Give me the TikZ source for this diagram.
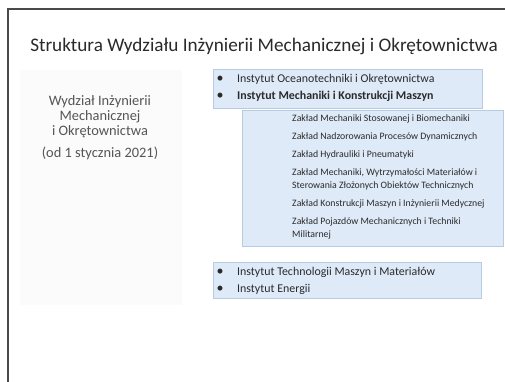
\documentclass[tikz,border=0pt]{standalone}
\usepackage{fontspec}
\setmainfont{Carlito}
\definecolor{framec}{HTML}{4A4A4A}
\definecolor{boxblue}{HTML}{DFEAF8}
\definecolor{boxedge}{HTML}{B7CBE3}
\definecolor{leftgrey}{HTML}{FBFBFB}
\definecolor{textgrey}{HTML}{555555}
\definecolor{textdark}{HTML}{2A2A2A}
\begin{document}
\begin{tikzpicture}[x=1pt,y=-1pt,
  bluebox/.style={rectangle, fill=boxblue, draw=boxedge, line width=0.7pt, inner sep=0pt},
  greybox/.style={rectangle, fill=leftgrey, draw=none, inner sep=0pt},
  inst/.style={anchor=west, inner sep=0pt, text=textdark, font=\fontsize{11.9}{14}\selectfont},
  bul/.style={anchor=center, inner sep=0pt, text=textdark, font=\fontsize{14}{14}\selectfont},
  zak/.style={anchor=west, inner sep=0pt, text=textdark, font=\fontsize{9.8}{11}\selectfont},
  lefttxt/.style={anchor=center, inner sep=0pt, text=textgrey, font=\fontsize{14.4}{16}\selectfont}]
\useasboundingbox (0,0) rectangle (505,382);
\fill[white] (0,0) rectangle (505,382);
% slide frame
\coordinate (fbl) at (8,382);
\coordinate (ftl) at (8,9);
\coordinate (ftr) at (505,9);
\draw[framec, line width=1.4pt] (fbl) -- (ftl) -- (ftr);
% title
\node[anchor=center, inner sep=0pt, text=textdark, font=\fontsize{19.2}{22}\selectfont] (title) at (264,46) {Struktura Wydziału Inżynierii Mechanicznej i Okrętownictwa};
% left box
\node[greybox, minimum width=162, minimum height=235] (leftbox) at (101,187.5) {};
\node[lefttxt] (l1) at (100,102) {Wydział Inżynierii};
\node[lefttxt] (l2) at (100,117) {Mechanicznej};
\node[lefttxt] (l3) at (100,132) {i Okrętownictwa};
\node[lefttxt] (l4) at (100,153) {(od 1 stycznia 2021)};
% top box
\node[bluebox, minimum width=269, minimum height=39] (topbox) at (347.5,88.5) {};
\node[bul] (b1) at (220,79) {•};
\node[inst] (i1) at (237,79) {Instytut Oceanotechniki i Okrętownictwa};
\node[bul] (b2) at (220,96) {•};
\node[inst, font=\fontsize{11.9}{14}\selectfont\bfseries] (i2) at (237,96) {Instytut Mechaniki i Konstrukcji Maszyn};
% sub box
\node[bluebox, minimum width=261, minimum height=136] (subbox) at (372.5,178) {};
\node[zak] (z1) at (292,119) {Zakład Mechaniki Stosowanej i Biomechaniki};
\node[zak] (z2) at (292,137) {Zakład Nadzorowania Procesów Dynamicznych};
\node[zak] (z3) at (292,155) {Zakład Hydrauliki i Pneumatyki};
\node[zak] (z4a) at (292,173) {Zakład Mechaniki, Wytrzymałości Materiałów i};
\node[zak] (z4b) at (292,186) {Sterowania Złożonych Obiektów Technicznych};
\node[zak] (z5) at (292,204) {Zakład Konstrukcji Maszyn i Inżynierii Medycznej};
\node[zak] (z6a) at (292,222) {Zakład Pojazdów Mechanicznych i Techniki};
\node[zak] (z6b) at (292,235) {Militarnej};
% bottom box
\node[bluebox, minimum width=268, minimum height=36] (botbox) at (347,280) {};
\node[bul] (b3) at (220,272) {•};
\node[inst] (i3) at (237,272) {Instytut Technologii Maszyn i Materiałów};
\node[bul] (b4) at (220,289) {•};
\node[inst] (i4) at (237,289) {Instytut Energii};
\end{tikzpicture}
\end{document}
